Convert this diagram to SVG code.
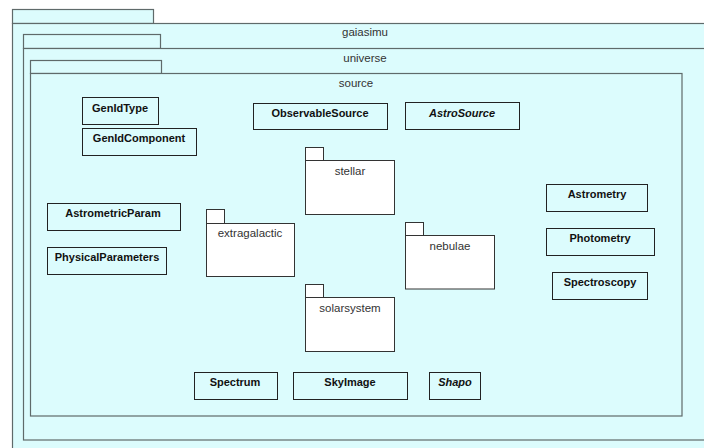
<svg xmlns="http://www.w3.org/2000/svg" width="704" height="448" viewBox="0 0 704 448">
<style>
.pkg{fill:#dcfcfd;stroke:#5f6a6a;stroke-width:1.2}
.sub{fill:#ffffff;stroke:#333;stroke-width:1}
.cls{fill:#dcfcfd;stroke:#222;stroke-width:1}
.pl{font-family:"Liberation Sans",Arial,sans-serif;font-size:11.5px;fill:#333;text-anchor:middle}
.cl{font-family:"Liberation Sans",Arial,sans-serif;font-size:11px;font-weight:bold;fill:#111;text-anchor:middle}
.it{font-style:italic}
</style>
<rect x="0" y="0" width="704" height="448" fill="#ffffff"/>
<g id="gaiasimu">
<rect class="pkg" x="12.5" y="9.5" width="141" height="14"/>
<rect class="pkg" x="12.5" y="23.5" width="700" height="440"/>
<text class="pl" x="365" y="36">gaiasimu</text>
</g>
<g id="universe">
<rect class="pkg" x="23.5" y="34.5" width="137" height="14"/>
<rect class="pkg" x="23.5" y="48.5" width="690" height="391.5"/>
<text class="pl" x="365" y="62">universe</text>
</g>
<g id="source">
<rect class="pkg" x="30.5" y="60.5" width="131" height="13"/>
<rect class="pkg" x="30.5" y="73.5" width="651.5" height="342.5"/>
<text class="pl" x="356" y="87">source</text>
</g>
<g id="GenIdType"><rect class="cls" x="82.5" y="97.5" width="76" height="27"/><text class="cl" x="120" y="112">GenIdType</text></g>
<g id="GenIdComponent"><rect class="cls" x="82.5" y="128.5" width="114" height="27"/><text class="cl" x="139" y="142">GenIdComponent</text></g>
<g id="ObservableSource"><rect class="cls" x="253.5" y="103.5" width="134" height="26"/><text class="cl" x="320" y="117">ObservableSource</text></g>
<g id="AstroSource"><rect class="cls" x="405.5" y="102.5" width="114" height="27"/><text class="cl it" x="462" y="117">AstroSource</text></g>
<g id="stellar">
<rect class="sub" x="305.5" y="147.5" width="18" height="13"/>
<rect class="sub" x="305.5" y="160.5" width="89" height="54"/>
<text class="pl" x="350" y="175">stellar</text>
</g>
<g id="extragalactic">
<rect class="sub" x="206.5" y="209.5" width="18" height="14"/>
<rect class="sub" x="206.5" y="223.5" width="88" height="53"/>
<text class="pl" x="250" y="237">extragalactic</text>
</g>
<g id="nebulae">
<rect class="sub" x="405.5" y="222.5" width="18" height="13"/>
<rect class="sub" x="405.5" y="235.5" width="89" height="53.5"/>
<text class="pl" x="450" y="250">nebulae</text>
</g>
<g id="solarsystem">
<rect class="sub" x="305.5" y="284.5" width="18" height="13"/>
<rect class="sub" x="305.5" y="297.5" width="89" height="54"/>
<text class="pl" x="350" y="312">solarsystem</text>
</g>
<g id="AstrometricParam"><rect class="cls" x="47.5" y="203.5" width="133" height="27"/><text class="cl" x="113" y="217">AstrometricParam</text></g>
<g id="PhysicalParameters"><rect class="cls" x="47.5" y="247.5" width="119" height="27"/><text class="cl" x="107" y="261">PhysicalParameters</text></g>
<g id="Astrometry"><rect class="cls" x="546.5" y="184.5" width="101" height="27"/><text class="cl" x="597" y="198">Astrometry</text></g>
<g id="Photometry"><rect class="cls" x="546.5" y="228.5" width="108" height="27"/><text class="cl" x="600" y="242">Photometry</text></g>
<g id="Spectroscopy"><rect class="cls" x="552.5" y="272.5" width="95" height="27"/><text class="cl" x="600" y="286">Spectroscopy</text></g>
<g id="Spectrum"><rect class="cls" x="194.5" y="372.5" width="83" height="27"/><text class="cl" x="235" y="386">Spectrum</text></g>
<g id="SkyImage"><rect class="cls" x="293.5" y="372.5" width="114" height="27"/><text class="cl" x="350" y="386">SkyImage</text></g>
<g id="Shapo"><rect class="cls" x="429.5" y="372.5" width="51" height="27"/><text class="cl it" x="455" y="386">Shapo</text></g>
<g id="connectors"></g>
</svg>
